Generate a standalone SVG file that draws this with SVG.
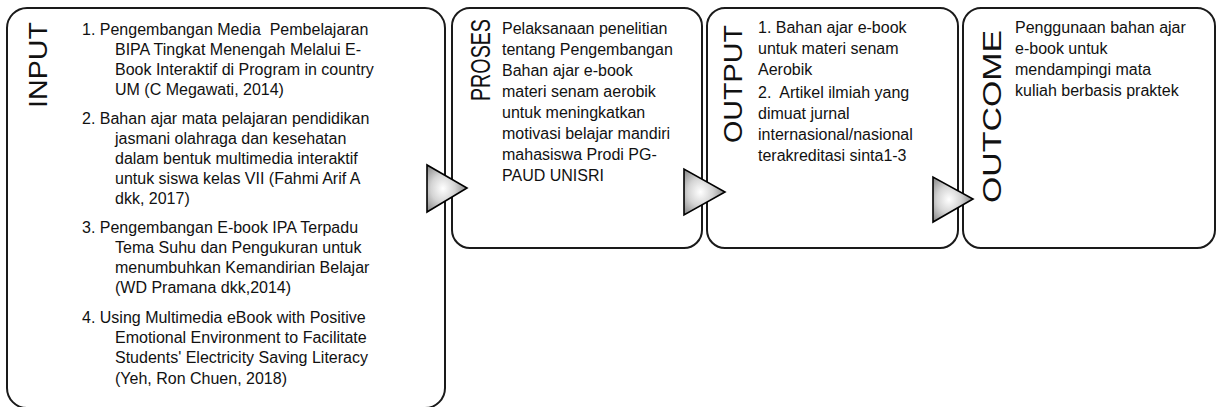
<svg xmlns="http://www.w3.org/2000/svg" width="1219" height="407" viewBox="0 0 1219 407">
<style>
.box{fill:#fff;stroke:#1a1a1a;stroke-width:2}
.t{font-family:"Liberation Sans",Arial,sans-serif;font-size:16px;fill:#111}
.lab{font-family:"Liberation Sans",Arial,sans-serif;fill:#111;font-weight:normal}
.arr{fill:url(#g);stroke:#000;stroke-width:1.6;stroke-linejoin:miter}
</style>
<defs>
<radialGradient id="g" cx="0.4" cy="0.5" r="0.6">
<stop offset="0" stop-color="#ffffff"/>
<stop offset="0.5" stop-color="#d4d4d4"/>
<stop offset="1" stop-color="#8a8a8a"/>
</radialGradient>
</defs>
<rect width="1219" height="407" fill="#fff"/>
<g id="input">
<rect class="box" x="7" y="8" width="438" height="400" rx="20"/>
<text class="lab" font-size="25" transform="translate(47,108) rotate(-90) scale(1.147,1)">INPUT</text>
<text class="t" xml:space="preserve"><tspan x="82" y="35">1. Pengembangan Media  Pembelajaran</tspan><tspan x="115" y="55">BIPA Tingkat Menengah Melalui E-</tspan><tspan x="115" y="75">Book Interaktif di Program in country</tspan><tspan x="115" y="95">UM (C Megawati, 2014)</tspan></text>
<text class="t"><tspan x="82" y="124">2. Bahan ajar mata pelajaran pendidikan</tspan><tspan x="115" y="144">jasmani olahraga dan kesehatan</tspan><tspan x="115" y="164">dalam bentuk multimedia interaktif</tspan><tspan x="115" y="184">untuk siswa kelas VII (Fahmi Arif A</tspan><tspan x="115" y="204">dkk, 2017)</tspan></text>
<text class="t"><tspan x="82" y="233">3. Pengembangan E-book IPA Terpadu</tspan><tspan x="115" y="253">Tema Suhu dan Pengukuran untuk</tspan><tspan x="115" y="273">menumbuhkan Kemandirian Belajar</tspan><tspan x="115" y="293">(WD Pramana dkk,2014)</tspan></text>
<text class="t"><tspan x="82" y="323">4. Using Multimedia eBook with Positive</tspan><tspan x="115" y="343">Emotional Environment to Facilitate</tspan><tspan x="115" y="363">Students' Electricity Saving Literacy</tspan><tspan x="115" y="384">(Yeh, Ron Chuen, 2018)</tspan></text>
</g>
<g id="proses">
<rect class="box" x="452" y="8" width="250" height="240" rx="18"/>
<text class="lab" font-size="28" transform="translate(490,101) rotate(-90) scale(0.703,1)">PROSES</text>
<text class="t"><tspan x="502" y="34">Pelaksanaan penelitian</tspan><tspan x="502" y="55">tentang Pengembangan</tspan><tspan x="502" y="76">Bahan ajar e-book</tspan><tspan x="502" y="97">materi senam aerobik</tspan><tspan x="502" y="118">untuk meningkatkan</tspan><tspan x="502" y="139">motivasi belajar mandiri</tspan><tspan x="502" y="160">mahasiswa Prodi PG-</tspan><tspan x="502" y="181">PAUD UNISRI</tspan></text>
</g>
<g id="output">
<rect class="box" x="707" y="8" width="251" height="240" rx="18"/>
<text class="lab" font-size="26" transform="translate(742,143) rotate(-90) scale(1.104,1)">OUTPUT</text>
<text class="t" xml:space="preserve"><tspan x="758" y="33">1. Bahan ajar e-book</tspan><tspan x="758" y="54">untuk materi senam</tspan><tspan x="758" y="75">Aerobik</tspan><tspan x="758" y="98">2.  Artikel ilmiah yang</tspan><tspan x="758" y="119">dimuat jurnal</tspan><tspan x="758" y="140">internasional/nasional</tspan><tspan x="758" y="161">terakreditasi sinta1-3</tspan></text>
</g>
<g id="outcome">
<rect class="box" x="963" y="8" width="252" height="240" rx="18"/>
<text class="lab" font-size="25" transform="translate(1001,203) rotate(-90) scale(1.354,1)">OUTCOME</text>
<text class="t"><tspan x="1015" y="33">Penggunaan bahan ajar</tspan><tspan x="1015" y="54">e-book untuk</tspan><tspan x="1015" y="75">mendampingi mata</tspan><tspan x="1015" y="96">kuliah berbasis praktek</tspan></text>
</g>
<g id="connectors">
<polygon class="arr" points="427,165 427,212 467,188"/>
<polygon class="arr" points="684,169 684,215 725,192"/>
<polygon class="arr" points="933,177 933,222 973,199"/>
</g>
</svg>
